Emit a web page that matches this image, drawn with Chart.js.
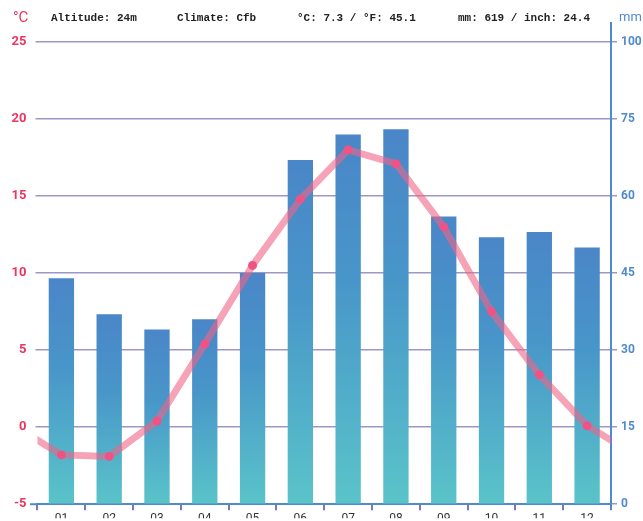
<!DOCTYPE html>
<html>
<head>
<meta charset="utf-8">
<script src="https://cdn.jsdelivr.net/npm/chart.js@4.4.1/dist/chart.umd.min.js"></script>
<style>
  html, body { margin: 0; padding: 0; background: #fff; }
  #wrap { width: 643px; height: 521px; position: relative; }
</style>
</head>
<body>
<div id="wrap"><canvas id="climateChart"></canvas></div>
<script>
const months = ['01', '02', '03', '04', '05', '06', '07', '08', '09', '10', '11', '12'];
const temperature = [-1.8, -1.9, 0.4, 5.4, 10.5, 14.8, 18.0, 17.1, 13.0, 7.5, 3.4, 0.1];
const precipitation = [44, 37, 34, 36, 45, 67, 72, 73, 56, 52, 53, 50];
const headerTexts = [
  { text: 'Altitude: 24m', x: 51 },
  { text: 'Climate: Cfb', x: 177 },
  { text: '°C: 7.3 / °F: 45.1', x: 297 },
  { text: 'mm: 619 / inch: 24.4', x: 458 }
];

const gridColor = 'rgba(125,115,178,0.75)';
const blue = '#4f8bcc';
const red = '#ec3560';

// line wraps around the year: Dec before Jan, Jan after Dec
let tempPoints = [{ x: 0, y: temperature[11] }];
temperature.forEach((t, i) => tempPoints.push({ x: i + 1, y: t }));
tempPoints.push({ x: 13, y: temperature[0] });

function barGradient(c) {
  let chart = c.chart;
  if (!chart.chartArea || !chart.scales.y1) return '#4a8ac8';
  let ys = chart.scales.y1;
  let top = ys.getPixelForValue(c.raw);
  let bottom = ys.getPixelForValue(0);
  let g = chart.ctx.createLinearGradient(0, top, 0, bottom);
  g.addColorStop(0, '#4a86c8');
  g.addColorStop(0.4, '#4896c9');
  g.addColorStop(1, '#5ac4c9');
  return g;
}

const extras = {
  id: 'extras',
  afterDraw: (chart) => {
    let ctx = chart.ctx;
    let area = chart.chartArea;
    ctx.save();
    // header
    ctx.font = 'bold 11px "Liberation Mono"';
    ctx.fillStyle = '#222';
    ctx.textBaseline = 'middle';
    headerTexts.forEach(h => ctx.fillText(h.text, h.x, 18));
    ctx.font = '15px Roboto';
    ctx.fillStyle = red;
    ctx.fillText('°C', 13, 18);
    ctx.font = '13px Roboto';
    ctx.fillStyle = blue;
    ctx.fillText('mm', 619, 18);
    // axis line extensions
    ctx.strokeStyle = blue;
    ctx.lineWidth = 2;
    ctx.beginPath();
    ctx.moveTo(area.right, 22);
    ctx.lineTo(area.right, area.top);
    ctx.moveTo(area.right, area.bottom);
    ctx.lineTo(area.right, area.bottom + 4);
    ctx.moveTo(30, area.bottom);
    ctx.lineTo(area.left, area.bottom);
    ctx.stroke();
    ctx.restore();
  }
};

var ctx = document.getElementById('climateChart').getContext('2d');
let climateChart = new Chart(ctx, {
  data: {
    labels: months,
    datasets: [{
      type: 'line',
      label: 'Temperature',
      data: tempPoints,
      xAxisID: 'x2',
      yAxisID: 'y',
      order: 0,
      borderColor: 'rgba(240,100,135,0.6)',
      borderWidth: 7,
      tension: 0,
      pointRadius: (c) => (c.dataIndex === 0 || c.dataIndex === 13) ? 0 : 4.5,
      pointBackgroundColor: '#ef5385',
      pointBorderWidth: 0,
      fill: false
    }, {
      type: 'bar',
      label: 'Precipitation',
      data: precipitation,
      xAxisID: 'x',
      yAxisID: 'y1',
      order: 1,
      grouped: false,
      backgroundColor: barGradient,
      barPercentage: 0.53,
      categoryPercentage: 1
    }]
  },
  options: {
    responsive: true,
    maintainAspectRatio: false,
    animation: false,
    layout: { padding: { top: 42, left: 0, right: 0, bottom: 0 } },
    plugins: {
      legend: { display: false },
      tooltip: { enabled: false }
    },
    scales: {
      x: {
        type: 'category',
        position: 'bottom',
        offset: true,
        afterFit: (s) => { s.height = 14; },
        grid: { drawOnChartArea: false, drawTicks: true, tickLength: 6, color: '#7d75b8', lineWidth: 2, offset: true },
        border: { display: true, color: blue, width: 2 },
        ticks: { color: '#333', padding: 2, font: { family: 'Roboto', size: 12 } }
      },
      x2: {
        type: 'linear',
        display: false,
        min: 0.5,
        max: 12.5
      },
      y: {
        type: 'linear',
        position: 'left',
        min: -5,
        max: 25,
        afterFit: (s) => { s.width = 37.5; },
        grid: { color: gridColor, lineWidth: 1.5, tickLength: 2 },
        border: { display: false },
        ticks: { stepSize: 5, color: red, padding: 9, font: { family: 'Roboto', size: 13, weight: 'bold' } }
      },
      y1: {
        type: 'linear',
        position: 'right',
        min: 0,
        max: 90,
        afterFit: (s) => { s.width = 32; },
        grid: { drawOnChartArea: false, tickLength: 6, color: gridColor, lineWidth: 1.5 },
        border: { display: true, color: blue, width: 2 },
        ticks: {
          stepSize: 15,
          color: blue,
          padding: 4,
          font: { family: 'Roboto', size: 12, weight: 'bold' },
          callback: (v) => v === 90 ? 100 : v
        }
      }
    }
  },
  plugins: [extras]
});
</script>
</body>
</html>
